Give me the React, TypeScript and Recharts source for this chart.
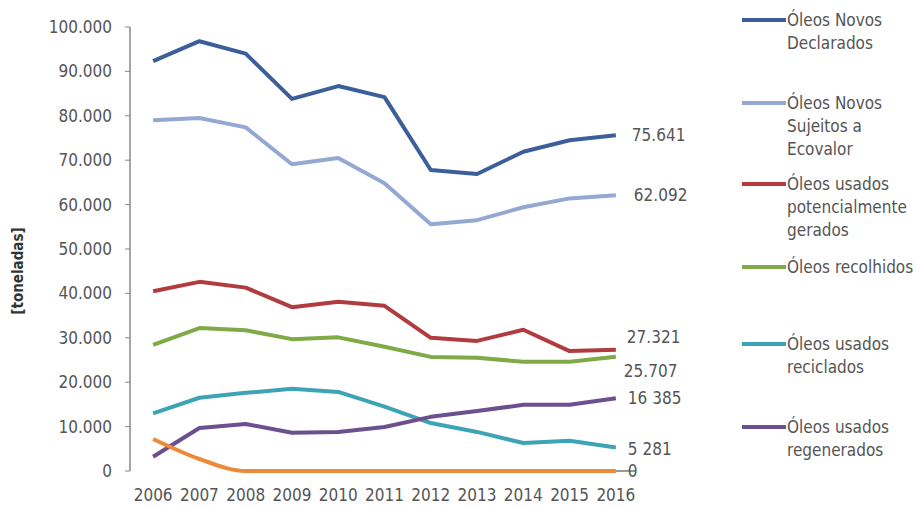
import React from 'react';
import { LineChart, Line, XAxis, YAxis, LabelList, Label } from 'recharts';

const years = ['2006', '2007', '2008', '2009', '2010', '2011', '2012', '2013', '2014', '2015', '2016'];
const oleosNovosDeclarados = [92300, 96800, 94000, 83800, 86700, 84200, 67800, 66900, 71900, 74500, 75641];
const oleosNovosEcovalor = [79000, 79500, 77400, 69100, 70500, 64800, 55600, 56500, 59400, 61400, 62092];
const oleosPotenciais = [40500, 42600, 41300, 36900, 38100, 37200, 30000, 29300, 31800, 27000, 27321];
const oleosRecolhidos = [28400, 32200, 31700, 29700, 30100, 28000, 25700, 25500, 24600, 24600, 25707];
const oleosReciclados = [13000, 16500, 17600, 18500, 17800, 14500, 10800, 8800, 6300, 6800, 5281];
const oleosRegenerados = [3200, 9700, 10600, 8600, 8800, 9900, 12200, 13500, 14900, 14900, 16385];
const oleosOutros = [7200, 2700, 0, 0, 0, 0, 0, 0, 0, 0, 0];

const seriesNames = [
  'Óleos Novos Declarados',
  'Óleos Novos Sujeitos a Ecovalor',
  'Óleos usados potencialmente gerados',
  'Óleos recolhidos',
  'Óleos usados reciclados',
  'Óleos usados regenerados',
  'Outros',
];
const legendLines = [
  ['Óleos Novos', 'Declarados'],
  ['Óleos Novos', 'Sujeitos a', 'Ecovalor'],
  ['Óleos usados', 'potencialmente', 'gerados'],
  ['Óleos recolhidos'],
  ['Óleos usados', 'reciclados'],
  ['Óleos usados', 'regenerados'],
];
const endLabels = ['75.641', '62.092', '27.321', '25.707', '5 281', '16 385', '0'];
const yTicks = [0, 10000, 20000, 30000, 40000, 50000, 60000, 70000, 80000, 90000, 100000];

const seriesValues = [
  oleosNovosDeclarados,
  oleosNovosEcovalor,
  oleosPotenciais,
  oleosRecolhidos,
  oleosReciclados,
  oleosRegenerados,
  oleosOutros,
];
const keys = ['s0', 's1', 's2', 's3', 's4', 's5', 's6'];
const colors = ['#3c5f9b', '#93a8d3', '#b23b3f', '#80a948', '#3da4b6', '#6b4f8f', '#ec8a3a'];
const labelOffsets = [
  { dx: 16, dy: 0 },
  { dx: 18, dy: 0 },
  { dx: 11, dy: -13 },
  { dx: 8, dy: 14 },
  { dx: 12, dy: 1 },
  { dx: 12, dy: 0 },
  { dx: 12, dy: 0 },
];

const data = years.map((y, i) => {
  const row: any = { idx: i, year: y };
  keys.forEach((k, s) => {
    row[k] = seriesValues[s][i];
  });
  return row;
});

const separators = years.map((_, i) => i - 0.5).concat([years.length - 0.5]);

const FONT = '"DejaVu Sans Condensed", "Liberation Sans Narrow", "Roboto", sans-serif';
const TXT = '#555555';

const fmt = (v: number) => {
  if (v === 0) return '0';
  const s = String(v);
  return s.replace(/\B(?=(\d{3})+(?!\d))/g, '.');
};

const makeEndLabel = (s: number) => (props: any) => {
  const { x, y, index } = props;
  if (index !== years.length - 1) return null;
  const o = labelOffsets[s];
  return (
    <g>
      {s === 6 && <line x1={x} y1={y} x2={x + 20} y2={y} stroke="#777" strokeWidth={1.5} />}
      <text
        x={x + o.dx}
        y={y + o.dy}
        dominantBaseline="central"
        fill={TXT}
        fontSize={17}
        fontFamily={FONT}
      >
        {endLabels[s]}
      </text>
    </g>
  );
};

const legendTops = [20, 103, 184, 267, 344, 427];

export default function App() {
  return (
    <div style={{ position: 'absolute', left: 0, top: 0, width: 917, height: 506, background: '#fff' }}>
      <LineChart
        width={917}
        height={506}
        data={data}
        margin={{ top: 27, right: 278, bottom: 0, left: 0 }}
      >
        <XAxis
          xAxisId="sep"
          type="number"
          dataKey="idx"
          domain={[-0.5, years.length - 0.5]}
          ticks={separators}
          tick={false}
          tickLine={{ stroke: '#888' }}
          tickSize={8}
          axisLine={{ stroke: '#888', strokeWidth: 1.5 }}
          height={0}
          allowDataOverflow
        />
        <XAxis
          type="number"
          dataKey="idx"
          domain={[-0.5, years.length - 0.5]}
          ticks={years.map((_, i) => i)}
          tickFormatter={(v: number) => years[v]}
          tickLine={false}
          axisLine={false}
          tickSize={0}
          tickMargin={18}
          height={35}
          interval={0}
          tick={{ fill: TXT, fontSize: 17, fontFamily: FONT }}
          allowDataOverflow
        />
        <YAxis
          domain={[0, 100000]}
          ticks={yTicks}
          tickFormatter={fmt}
          width={130}
          tickSize={5}
          tickMargin={13}
          tickLine={{ stroke: '#888' }}
          axisLine={{ stroke: '#888', strokeWidth: 1.5 }}
          tick={{ fill: TXT, fontSize: 17, fontFamily: FONT }}
          interval={0}
        >
          <Label
            content={(p: any) => {
              const vb = p.viewBox || { y: 27, height: 444 };
              const cy = vb.y + vb.height / 2 + 22;
              return (
                <text
                  x={18}
                  y={cy}
                  transform={`rotate(-90, 18, ${cy})`}
                  textAnchor="middle"
                  dominantBaseline="central"
                  fill="#333"
                  fontSize={15}
                  fontWeight="bold"
                  fontFamily={FONT}
                >
                  [toneladas]
                </text>
              );
            }}
          />
        </YAxis>
        {keys.map((k, s) => (
          <Line
            key={k}
            dataKey={k}
            name={seriesNames[s]}
            type={s === 6 ? 'monotone' : 'linear'}
            stroke={colors[s]}
            strokeWidth={4}
            strokeLinejoin="round"
            dot={false}
            activeDot={false}
            isAnimationActive={false}
            legendType={s === 6 ? 'none' : 'line'}
          >
            <LabelList dataKey={k} content={makeEndLabel(s)} />
          </Line>
        ))}
      </LineChart>
      <div style={{ position: 'absolute', left: 740, top: 0, width: 177, height: 506 }}>
        {legendLines.map((lines, s) => (
          <div
            key={s}
            style={{ position: 'absolute', left: 0, top: legendTops[s] - 11, width: 177 }}
          >
            <div
              style={{
                position: 'absolute',
                left: 2,
                top: 9,
                width: 44,
                height: 4,
                background: colors[s],
              }}
            />
            <div
              style={{
                position: 'absolute',
                left: 47,
                top: 0,
                fontFamily: FONT,
                fontSize: 17,
                lineHeight: '23px',
                color: TXT,
                whiteSpace: 'nowrap',
              }}
            >
              {lines.map((l, j) => (
                <div key={j}>{l}</div>
              ))}
            </div>
          </div>
        ))}
      </div>
    </div>
  );
}
